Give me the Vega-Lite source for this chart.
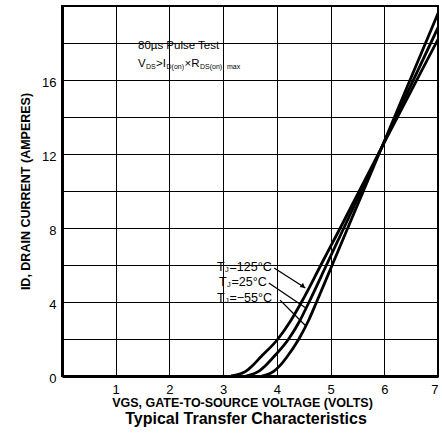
{
  "$schema": "https://vega.github.io/schema/vega-lite/v6.json",
  "width": 376,
  "height": 370,
  "autosize": "none",
  "padding": {"left": 62, "top": 6, "right": 4, "bottom": 57},
  "background": "white",
  "config": {
    "font": "Liberation Sans",
    "view": {"stroke": "black", "strokeWidth": 2},
    "axis": {"labelFont": "Liberation Sans", "titleFont": "Liberation Sans", "labelColor": "black", "titleColor": "black"}
  },
  "title": {"text": "Typical Transfer Characteristics", "orient": "bottom", "fontSize": 16, "fontWeight": "bold", "font": "Liberation Sans", "offset": 2, "color": "black", "anchor": "middle", "dx": -4},
  "datasets": {
    "curves": [
      {"tj": "125", "vgs": 3.15, "id": 0}, {"tj": "125", "vgs": 3.42, "id": 0.25}, {"tj": "125", "vgs": 3.56, "id": 0.6}, {"tj": "125", "vgs": 3.69, "id": 1}, {"tj": "125", "vgs": 4.02, "id": 2}, {"tj": "125", "vgs": 4.26, "id": 3}, {"tj": "125", "vgs": 4.46, "id": 4}, {"tj": "125", "vgs": 4.82, "id": 6}, {"tj": "125", "vgs": 5.18, "id": 8}, {"tj": "125", "vgs": 5.95, "id": 12.34}, {"tj": "125", "vgs": 7, "id": 18.2},
      {"tj": "25", "vgs": 3.42, "id": 0}, {"tj": "25", "vgs": 3.66, "id": 0.25}, {"tj": "25", "vgs": 3.8, "id": 0.6}, {"tj": "25", "vgs": 3.93, "id": 1}, {"tj": "25", "vgs": 4.22, "id": 2}, {"tj": "25", "vgs": 4.43, "id": 3}, {"tj": "25", "vgs": 4.6, "id": 4}, {"tj": "25", "vgs": 4.924, "id": 6}, {"tj": "25", "vgs": 5.247, "id": 8}, {"tj": "25", "vgs": 5.95, "id": 12.34}, {"tj": "25", "vgs": 7, "id": 18.83},
      {"tj": "-55", "vgs": 3.72, "id": 0}, {"tj": "-55", "vgs": 3.94, "id": 0.25}, {"tj": "-55", "vgs": 4.07, "id": 0.6}, {"tj": "-55", "vgs": 4.18, "id": 1}, {"tj": "-55", "vgs": 4.41, "id": 2}, {"tj": "-55", "vgs": 4.59, "id": 3}, {"tj": "-55", "vgs": 4.74, "id": 4}, {"tj": "-55", "vgs": 5.03, "id": 6}, {"tj": "-55", "vgs": 5.32, "id": 8}, {"tj": "-55", "vgs": 5.95, "id": 12.34}, {"tj": "-55", "vgs": 7, "id": 19.6}
    ],
    "leaders": [
      {"x": 3.95, "y": 5.84, "x2": 4.53, "y2": 4.76},
      {"x": 3.85, "y": 5.03, "x2": 4.54, "y2": 3.68},
      {"x": 4.06, "y": 4.1, "x2": 4.54, "y2": 2.7}
    ],
    "arrows": [{"x": 4.49, "y": 4.84}],
    "labels": [
      {"x": 2.886, "y": 5.9, "t": "T"}, {"x": 3.118, "y": 5.9, "t": "=125°C"},
      {"x": 2.923, "y": 5.1, "t": "T"}, {"x": 3.156, "y": 5.1, "t": "=25°C"},
      {"x": 2.886, "y": 4.23, "t": "T"}, {"x": 3.118, "y": 4.23, "t": "=−55°C"}
    ],
    "sublabels": [
      {"x": 3.035, "y": 5.73, "t": "J"},
      {"x": 3.072, "y": 4.94, "t": "J"},
      {"x": 3.035, "y": 4.07, "t": "J"}
    ],
    "notes": [
      {"x": 1.415, "y": 17.84, "t": "80µs Pulse Test"},
      {"x": 1.415, "y": 16.86, "t": "V"},
      {"x": 1.75, "y": 16.86, "t": ">I"},
      {"x": 2.281, "y": 16.86, "t": "×R"}
    ],
    "notesubs": [
      {"x": 1.564, "y": 16.7, "t": "DS"},
      {"x": 1.946, "y": 16.7, "t": "D(on)"},
      {"x": 2.569, "y": 16.7, "t": "DS(on)"},
      {"x": 3.072, "y": 16.7, "t": "max"}
    ]
  },
  "encoding": {
    "x": {"field": "vgs", "type": "quantitative", "scale": {"domain": [0, 7], "nice": false},
      "axis": {"values": [0, 1, 2, 3, 4, 5, 6, 7], "grid": true, "gridColor": "black", "gridOpacity": 1, "gridWidth": 1, "ticks": false, "domainColor": "black", "domainWidth": 3, "labelFontSize": 13, "labelPadding": 7, "labelExpr": "datum.value == 0 ? '' : datum.label", "title": "VGS, GATE-TO-SOURCE VOLTAGE (VOLTS)", "titleFontSize": 12.5, "titleFontWeight": "bold", "titlePadding": 0, "titleX": 180}},
    "y": {"field": "id", "type": "quantitative", "scale": {"domain": [0, 20], "nice": false},
      "axis": {"values": [0, 2, 4, 6, 8, 10, 12, 14, 16, 18, 20], "grid": true, "gridColor": "black", "gridOpacity": 1, "gridWidth": 1, "ticks": false, "domainColor": "black", "domainWidth": 3, "labelFontSize": 13, "labelPadding": 6, "labelOffset": 2, "labelExpr": "(datum.value % 4 == 0 && datum.value < 20) ? datum.label : ''", "title": "ID, DRAIN CURRENT (AMPERES)", "titleFontSize": 12.5, "titleFontWeight": "bold", "titlePadding": 9}}
  },
  "layer": [
    {
      "data": {"name": "curves"},
      "mark": {"type": "line", "interpolate": "monotone", "strokeWidth": 2.8, "clip": true},
      "encoding": {"detail": {"field": "tj"}, "color": {"value": "black"}}
    },
    {
      "data": {"name": "leaders"},
      "mark": {"type": "rule", "strokeWidth": 1.3, "color": "black"},
      "encoding": {
        "x": {"field": "x", "type": "quantitative"},
        "y": {"field": "y", "type": "quantitative"},
        "x2": {"field": "x2"},
        "y2": {"field": "y2"}
      }
    },
    {
      "data": {"name": "arrows"},
      "mark": {"type": "point", "shape": "triangle-up", "filled": true, "color": "black", "size": 30, "angle": 129, "opacity": 1},
      "encoding": {
        "x": {"field": "x", "type": "quantitative"},
        "y": {"field": "y", "type": "quantitative"}
      }
    },
    {
      "data": {"name": "labels"},
      "mark": {"type": "text", "align": "left", "baseline": "middle", "fontSize": 12.5, "color": "black", "font": "Liberation Sans"},
      "encoding": {
        "x": {"field": "x", "type": "quantitative"},
        "y": {"field": "y", "type": "quantitative"},
        "text": {"field": "t"}
      }
    },
    {
      "data": {"name": "sublabels"},
      "mark": {"type": "text", "align": "left", "baseline": "middle", "fontSize": 7.5, "color": "black", "font": "Liberation Sans"},
      "encoding": {
        "x": {"field": "x", "type": "quantitative"},
        "y": {"field": "y", "type": "quantitative"},
        "text": {"field": "t"}
      }
    },
    {
      "data": {"name": "notes"},
      "mark": {"type": "text", "align": "left", "baseline": "middle", "fontSize": 11.5, "color": "black", "font": "Liberation Sans"},
      "encoding": {
        "x": {"field": "x", "type": "quantitative"},
        "y": {"field": "y", "type": "quantitative"},
        "text": {"field": "t"}
      }
    },
    {
      "data": {"name": "notesubs"},
      "mark": {"type": "text", "align": "left", "baseline": "middle", "fontSize": 7, "color": "black", "font": "Liberation Sans"},
      "encoding": {
        "x": {"field": "x", "type": "quantitative"},
        "y": {"field": "y", "type": "quantitative"},
        "text": {"field": "t"}
      }
    }
  ]
}
